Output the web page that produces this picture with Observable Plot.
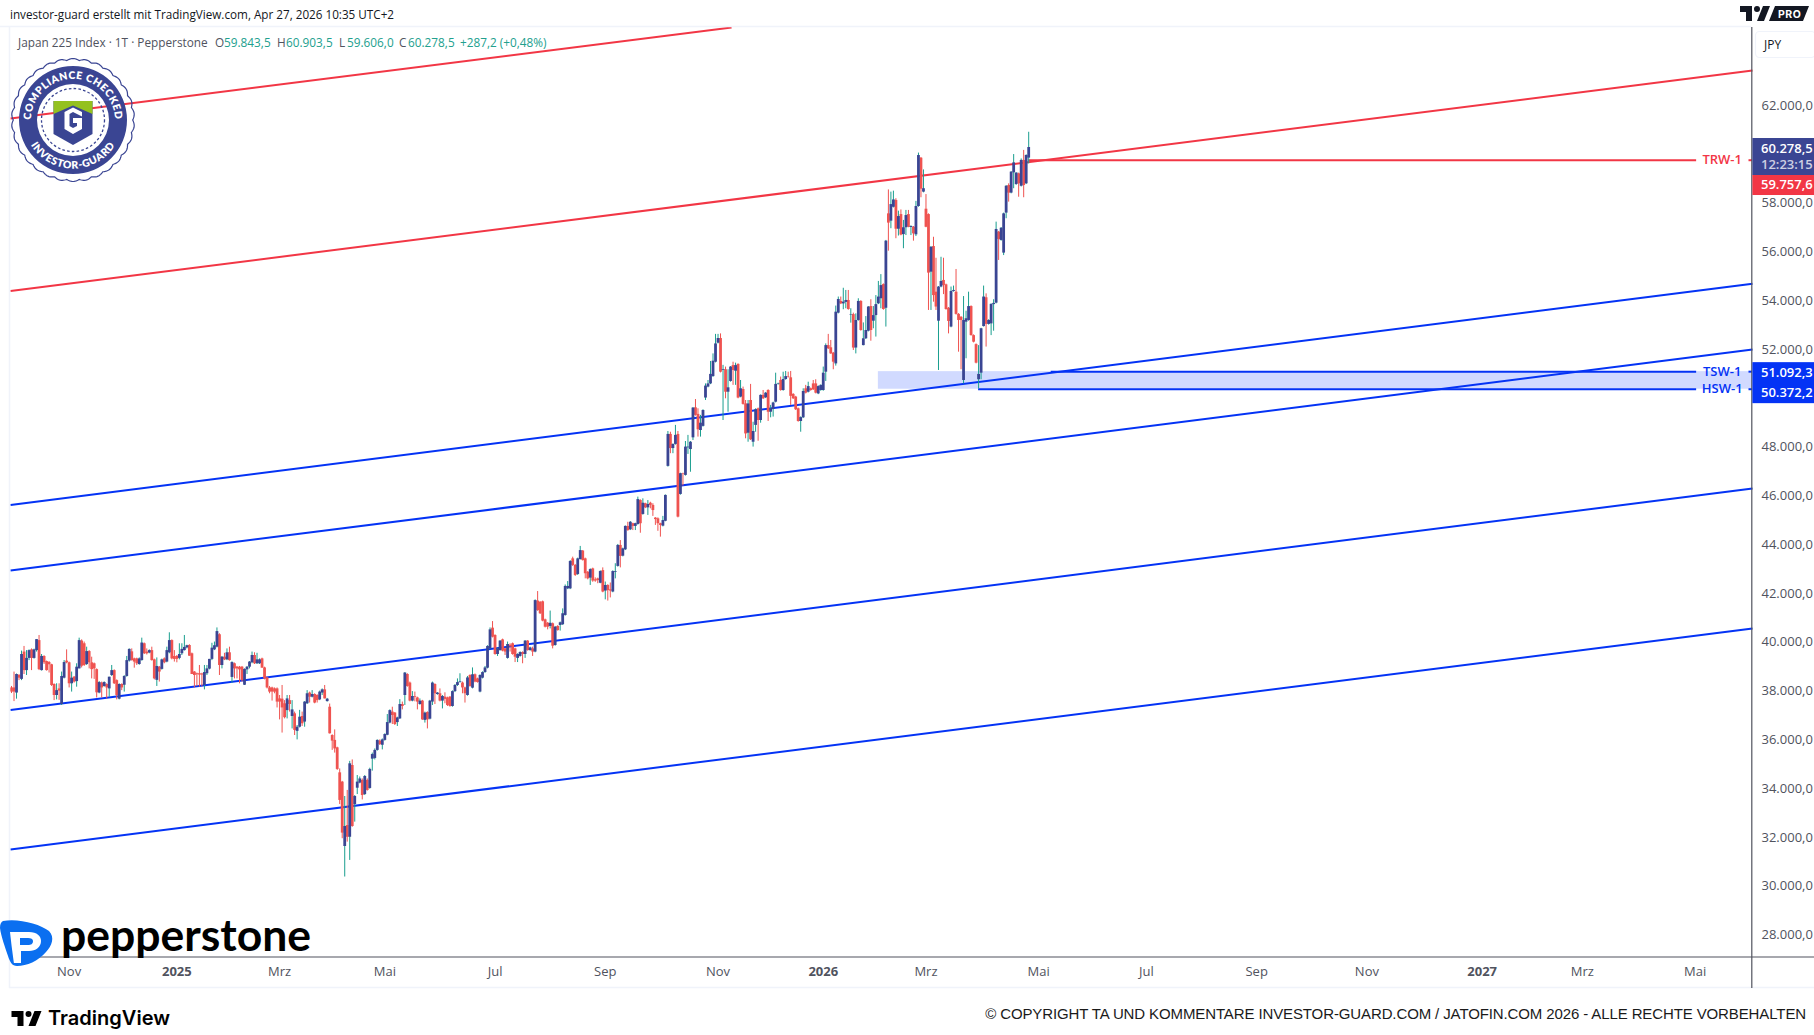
<!DOCTYPE html>
<html lang="de">
<head>
<meta charset="utf-8">
<title>Japan 225 Index</title>
<script src="https://cdn.jsdelivr.net/npm/d3@7"></script>
<script src="https://cdn.jsdelivr.net/npm/@observablehq/plot@0.6"></script>
<style>
html,body{margin:0;padding:0;background:#fff;width:1814px;height:1035px;overflow:hidden}
body{position:relative;font-family:"Open Sans",sans-serif}
#head{height:27px;line-height:29px;padding-left:10px;font-size:11.7px;color:#131722;box-sizing:border-box;white-space:nowrap}
#chart{height:961px;position:relative}
#chart svg{display:block;overflow:hidden}
#legend{position:absolute;left:18px;top:35px;font-size:11.8px;line-height:14px;color:#50535e;white-space:nowrap}
#legend span{position:absolute;top:0}
#legend .v{color:#22a08e}
#foot{position:absolute;top:988px;left:0;width:1814px;height:47px}
#copy{position:absolute;right:8px;top:17px;font:15px "Liberation Sans",sans-serif;color:#1a1a1a;white-space:nowrap;letter-spacing:-.115px}
#over{position:absolute;left:0;top:0;pointer-events:none}
</style>
</head>
<body>
<div id="head">investor-guard erstellt mit TradingView.com, Apr 27, 2026 10:35 UTC+2</div>
<div id="chart"></div>
<div id="legend"></div>
<div id="foot"><div id="copy">© COPYRIGHT TA UND KOMMENTARE INVESTOR-GUARD.COM / JATOFIN.COM 2026 - ALLE RECHTE VORBEHALTEN</div></div>
<script>
// Daily candles: [open, high, low, close]
const candlesLate2024 = [
[38130,38190,37900,37960],[38130,38780,37570,37960],[37920,38700,37670,38680],[38640,38680,38430,38530],[38480,39640,38430,39500],
[39600,39830,38680,38840],[38840,39660,38640,39340],[39340,39690,39250,39660],[39690,39730,38840,39340],[39340,39720,39310,39690],
[39660,40115,39600,40110],[40070,40280,38840,38880],[38840,39500,38820,39420],[39420,39450,39090,39160],[39210,39230,38820,38840],
[39170,39210,38740,39080],[39080,39100,38190,38230],[38270,38300,37610,37820],[37820,38300,37640,38020],[38090,38300,37620,38000],
[37450,38780,37410,38600],[38530,39250,38500,39170],[39230,39690,39120,39160],[39160,39190,38130,38300],[38300,38780,37960,38530],
[38570,38600,38330,38370],[38390,39120,38160,38980],[38910,40170,38910,40070],[40050,40100,38950,39020],[39940,40010,39010,39050],
[39090,39800,39050,39620],[39620,39660,38910,39160],[39160,39390,38500,38880],[39120,39150,38480,38910],[38880,38910,37720,37930],
[37920,38390,37890,38350],[38330,38370,37720,38130],[38190,38380,38160,38350],[38270,38300,37680,38130],[38090,38570,37750,38570],
[38640,39050,38600,38840],[38840,38870,38270,38300],[38430,38460,37640,37820],[37670,38300,37640,38270],[38270,38300,38020,38130],
[38240,38630,37960,38600],[38600,39420,38570,39250],[39230,39730,39190,39710],[39610,39730,39230,39250],[39320,39350,38940,39190],
[39320,39350,39050,39120],[39090,39360,39060,39320],[39250,40170,39230,39970],[39940,39970,39500,39530],[39600,39730,39480,39530],
[39560,39690,39530,39660],[39660,39800,39230,39250],[39280,39310,38460,38500],[38440,39360,38190,39010],[38980,39010,38370,38780],
[38890,39310,38860,39280],[39320,39360,39120,39160],[39190,39800,39160,39660],[39570,40390,39530,40070],[40070,40100,39280,39320],
[39420,39660,39190,39300],[39420,39460,39160,39300],[39340,39940,39280,39500],[39530,39940,39460,39710],[39660,40280,39640,39790],
[39770,39880,39730,39860],[39870,39900,39430,39430],[39530,39560,38680,38680],[38780,38800,38130,38640],[38710,38740,38190,38670],
[38710,39050,38160,38660],[38700,38730,38180,38660],[38230,39050,38050,38760],[38710,39050,38640,38910],[38900,39300,38870,39300]
];
const candlesEarly2025 = [
[39300,39960,39250,39760],[39690,40010,39660,39860],[39800,40590,39770,40440],[40310,40350,38640,39050],[39050,39420,38910,39390],
[39390,39550,39250,39280],[39280,39730,39250,39570],[39570,39800,39230,39250],[38560,39200,38320,39170],[39120,39150,38500,38910],
[38980,39010,38500,38910],[38980,39010,38300,38870],[38980,39010,38370,38430],[38240,38910,38230,38890],[38870,39010,38680,38980],
[38980,39210,38910,39190],[39160,39600,39120,39460],[39460,39570,39090,39120],[39120,39550,39090,39280],[39120,39320,39090,39280],
[39320,39350,38940,38940],[38950,38980,38460,38500],[38540,38570,38090,38130],[38130,38190,37890,37960],[38130,38160,37590,37960],
[38090,38130,37890,37960],[38090,38130,37310,37550],[37680,37820,36820,37550],[37670,38230,36280,37310],[37480,37610,36860,36910],
[37200,37820,36860,37680],[37610,37820,37140,37450],[36960,37610,36450,37230],[37070,37140,36180,36390],[36350,36590,36000,36520],
[36520,37210,36490,36930],[36960,37140,36550,36660],[36730,37570,36520,37550],[37480,38020,37450,37890],[37920,37960,37510,37750],
[37750,38020,37720,37860],[37860,37890,37480,37510],[37820,37850,37510,37610],[37640,38000,37610,37960],[37920,38090,37820,38050],
[38050,38230,37680,37680],[37570,37700,37550,37670],[37340,37470,36240,36250],[36180,36210,35570,35950],[35980,36410,35460,35630],
[35675,35700,34750,34790],[34650,34810,33350,33520],[34270,34300,31950,32180],[31630,33680,30380,32450],[32490,33930,31810,32010],
[32010,35120,31060,35020],[34950,35180,32420,32450],[33350,33720,32630,33680],[34020,34540,33760,34270],[34230,34480,34200,34400],
[34340,34400,33540,33720],[33760,34540,33720,34500],[34340,34400,33900,33930],[34010,34840,33980,34790],[35210,35460,34720,35400],
[35240,35630,35180,35570],[35570,36000,35540,35980],[35950,36000,35770,35810],[35780,36040,35590,36000],[35980,36250,35950,36220],
[36190,37040,36170,36710],[36690,37230,36660,37200],[37140,37340,36630,37000],[37100,37120,36590,36630],[36710,36930,36550,36900],
[36860,37650,36840,37450]
];
const candlesMid2025 = [
[37450,37550,37230,37370],[37820,38760,37410,38740],[38680,38710,38160,38190],[38330,38370,37560,37590],[37590,37980,37560,37780],
[37770,37960,37560,37740],[37720,37750,37230,37550],[37450,37680,37420,37590],[37590,37620,36800,36820],[36800,37140,36690,37100],
[37120,37150,36450,36820],[36850,37620,36820,37590],[37550,38370,37410,38330],[38270,38300,37450,37890],[37860,37940,37830,37920],
[37890,38090,37560,37590],[37590,37820,37270,37780],[37750,37930,37480,37660],[37720,37750,37370,37410],[37750,37780,37340,37370],
[37370,38010,37340,37980],[37980,38270,37940,38230],[38230,38500,38190,38350],[38350,38710,38330,38380],[38330,38370,37890,38130],
[38130,38160,37510,37890],[37820,38600,37790,38540],[38640,38670,38160,38190],[38120,38950,38090,38670],[38670,38700,38340,38370],
[38500,38530,38330,38350],[37960,38670,37930,38640],[38530,38790,38500,38760],[38760,39010,38730,38950],[38940,39860,38910,39830],
[39730,40590,39700,40510],[40580,40850,40180,40210],[40280,40310,39470,39500],[39500,39760,39420,39730],[39660,40070,39640,40050],
[40100,40130,39610,39640],[39730,39760,39460,39600],[39340,40010,39310,39910],[39880,39940,39600,39830],[39940,39970,39470,39500],
[39730,39760,39170,39390],[39340,39530,39170,39500],[39420,39610,39390,39580],[39580,39610,39120,39500],[39500,40070,39340,40050],
[40050,40070,39640,39660],[39660,39800,39640,39770],[39730,39800,39420,39600],[39600,41740,39570,41710],[41690,42080,41270,41300],
[41640,41670,41140,41170],[41660,41690,40840,40870],[40920,40950,40590,40620],[40780,40810,40510,40620],[40650,41280,40550,40780],
[40760,40790,39730,39840],[39870,40650,39840,40620],[40650,40680,40460,40480],[40690,40830,40460,40800],[40720,41370,40690,41170],
[41100,42350,41070,42290]
];
const candlesAutumn2025 = [
[42190,42490,42160,42290],[42190,43350,42160,43310],[43420,43490,43110,43150],[43150,43190,42700,42740],[42780,43450,42740,43420],
[43390,43930,43370,43760],[43740,43760,43330,43350],[43420,43450,42600,42810],[42870,42900,42560,42600],[42630,43010,42330,42980],
[43010,43040,42460,42510],[42560,42640,42460,42510],[42600,42630,42400,42530],[42420,42930,42400,42900],[42940,43050,42030,42060],
[42100,42470,41740,42330],[42330,42360,41690,42120],[42150,42430,41820,42100],[42060,42930,42030,42900],[42870,43220,42600,42900],
[43110,44010,43080,43970],[43970,44170,43050,43520],[43530,43860,43500,43830],[43790,44770,43760,44750],[44750,44920,44550,44580],
[44610,44950,44580,44920],[44860,44880,44580,44750],[44750,44880,44580,44860],[44830,45950,44800,45850],[45810,45840,44470,44860],
[45240,45880,45210,45700],[45680,45700,45480,45510],[45510,45810,45200,45650],[45700,45740,45470,45610],[45610,45680,45160,45400],
[45090,45110,44790,45030],[45060,45100,44550,44860],[44860,44880,44310,44790],[44760,45160,44730,44990],[44960,46040,44940,46020],
[47210,48640,47180,48520],[48520,48610,47730,47940],[47940,48130,47730,48110],[48110,48890,48080,48480],[48520,48640,45100,45130],
[46060,46930,46030,46910],[46900,46930,46400,46880],[46840,48230,46810,48000],[47970,48480,47700,48000],[47900,48230,46970,48200],
[48380,49620,48270,49600],[49610,49950,49270,49300],[49340,49570,48410,48710],[48680,49300,48410,48980],[48850,49530,48820,49500],
[50010,50590,49910,50500],[50460,50730,50430,50590],[50590,51510,50560,50980],[50890,51820,50860,51520],[51480,52620,51450,52230],
[52260,52620,52230,52450],[52450,52640,51040,51070],[51140,51350,49090,51170],[51170,51280,49980,50250],[50250,51170,49430,50430],
[50690,51300,50660,51280],[51340,51480,50530,51140],[51110,51440,50530,51340],[51390,51410,49980,50010],[50050,50730,50020,50390],
[50360,50460,49720,49750],[49770,49910,48340,48540],[48570,49910,48200,49770],[49910,50570,48270,48300],[48200,49020,48000,48640],
[48890,49570,48610,49530],[49570,49600,48240,49090],[49090,50140,48980,50120],[50120,50320,49950,49980],[50020,50240,49990,50210],
[50320,50350,49050,49430],[49430,49710,49200,49570],[49540,49840,49230,49810],[49840,51030,49810,50570],[50570,50620,50540,50590],
[50730,50870,50290,50320],[50320,51070,50290,50770],[50770,51100,50740,50890],[50880,51070,50830,50860],[50840,51100,49710,50080],
[50160,50190,49950,49980],[50050,50080,49500,49530],[49570,49600,49020,49050],[49050,49240,48610,49210],[49200,50390,49170,50280],
[50390,50530,50180,50210],[50250,50660,50220,50480],[50390,50420,50290,50320],[50590,50730,50320,50350],[50590,50760,50180,50210],
[50180,50510,50150,50480],[50320,50550,50290,50530],[50320,51280,50290,51030],[51070,52230,50690,52160]
];
const candles2026 = [
[52160,52620,52000,52030],[52070,52370,51800,51820],[51850,51880,51170,51480],[51410,53780,51320,53530],[53490,54150,53460,54050],
[53970,54150,53840,53870],[53870,54510,53630,53940],[53930,54420,53670,54010],[54010,54420,53610,53640],[53410,53670,53080,53430],
[53430,53490,51960,52060],[52060,53460,51820,53190],[53190,54080,53160,53970],[53970,54000,52750,52780],[52160,53090,52150,52440],
[52440,53350,52410,52780],[52750,53760,52720,53740],[53760,54040,52340,52780],[53160,53760,52850,53390],[53390,54210,52510,53840],
[53870,54790,53840,54150],[54080,55070,53670,54620],[54660,54690,53610,53640],[53690,56470,52920,56440],[57560,58540,56030,57180],
[57260,58450,56950,57940],[57830,58490,57800,58130],[58110,58180,56540,56930],[56930,57670,56650,57450],[57530,57720,56660,56690],
[56710,57290,56130,56990],[56990,57700,56670,57490],[57530,57700,56990,57010],[57000,57070,56670,57040],[57010,57040,56440,56740],
[56700,58070,56630,57860],[57860,60050,57830,59950],[59840,59870,58220,58570],[58450,59360,58420,58590],[57750,58350,56990,57010],
[57530,57560,53600,55130],[55170,56220,53600,56190],[56220,56600,53940,54210],[54350,55740,53600,53740],[53160,54580,51140,54560],
[54560,55780,54530,54790],[54830,55740,54250,54620],[54650,54680,53610,53640],[53690,53720,52640,53150],[52920,54560,52890,54380],
[54380,54600,54350,54420],[54350,55280,53410,53440],[53440,53470,51890,53190],[53320,53350,51170,53190],[50730,54170,50590,53190],
[53120,53570,51620,53260],[53190,54350,53160,53760],[53760,53790,52550,52570],[52570,52600,52270,52300],[52200,52230,51410,51440],
[50760,52160,50390,50980],[51030,52870,50760,52850],[52940,54600,52920,54150],[54120,54280,52100,53030],[53030,53220,53000,53190],
[53050,53870,52570,53850],[53840,54040,52750,53890],[53900,57220,53870,56920],[56810,56840,55650,56510],[56470,57000,56440,56970],
[55950,57590,55850,57560],[57590,58720,57360,58690],[58720,58790,58040,58410],[58410,59290,58380,59270],[59240,59990,58590,59650],
[58760,59250,58730,59230],[59200,59230,58240,58790],[58690,59810,58660,59750],[59750,60160,58220,58720],[58790,59980,58760,59950],
[59843.5,60903.5,59606,60278.5]
];

// Trend channels: [start bar, start price, end bar, end price]
const redChannels = [[-0.4,61467,287.4,65197],[-0.4,54398,694.9,63434]];
const blueChannels = [[-0.4,45627,694.9,54693],[-0.4,42943,694.9,52000],[-0.4,37225,694.9,46303],[-0.4,31508,694.9,40566]];

// Levels
const trw = 59757.6, tsw = 51092.3, hsw = 50372.2;
const lastPrice = 60278.5;
const lineEndBar = 672.6, stubStartBar = 693.5, labelBar = 682.8, plotEndBar = 694.9;
const trwStart = 406, tswStart = 415, hswStart = 386, zoneStart = 346;

// Axis ticks (price labels hidden behind the tags and the JPY button are left out)
const monthBars = [23,107,149,193,237,282,365,410,453,497,541,627,672];
const monthNames = ["Nov","Mrz","Mai","Jul","Sep","Nov","Mrz","Mai","Jul","Sep","Nov","Mrz","Mai"];
const yearBars = [66,324,587];
const yearNames = ["2025","2026","2027"];
const priceTicks = [28000,30000,32000,34000,36000,38000,40000,42000,44000,46000,48000,52000,54000,56000,58000,62000];

const candles = [...candlesLate2024,...candlesEarly2025,...candlesMid2025,...candlesAutumn2025,...candles2026]
  .map((r,i)=>({bar:i,open:r[0],high:r[1],low:r[2],close:r[3]}));
const up = candles.filter(d=>d.close>=d.open), down = candles.filter(d=>d.close<d.open);
const segs = a => a.map(s=>({x1:s[0],y1:s[1],x2:s[2],y2:s[3]}));
const fmtPrice = v => d3.format(",.1f")(v).replace(/,/g,"#").replace(".",",").replace(/#/g,".");

const RED="#f23645", BLUE="#0433f5", UPBODY="#3a4593", UPWICK="#1a9e8f", DOWN="#ef5350", AXIS="#50535e";
const segMark = (data,stroke) => Plot.link(data,{x1:"x1",y1:"y1",x2:"x2",y2:"y2",stroke,strokeWidth:2,markerEnd:"none"});
const levelMark = (x1,x2,y,stroke) => Plot.ruleY([y],{x1,x2,stroke,strokeWidth:2});

const plot = Plot.plot({
  width:1814,height:961,marginTop:0,marginBottom:31,marginLeft:10,marginRight:62,
  x:{type:"linear",domain:[-0.4,plotEndBar]},
  y:{domain:[27082,65197]},
  style:{fontFamily:'"Open Sans",sans-serif',background:"#fff",color:AXIS,overflow:"hidden"},
  marks:[
    Plot.rect([{a:zoneStart,b:plotEndBar,lo:hsw,hi:tsw}],{x1:"a",x2:"b",y1:"lo",y2:"hi",fill:"#d1daff"}),
    segMark(segs(redChannels),RED),
    segMark(segs(blueChannels),BLUE),
    levelMark(trwStart,lineEndBar,trw,RED),levelMark(stubStartBar,plotEndBar,trw,RED),
    levelMark(tswStart,lineEndBar,tsw,BLUE),levelMark(stubStartBar,plotEndBar,tsw,BLUE),
    levelMark(hswStart,lineEndBar,hsw,BLUE),levelMark(stubStartBar,plotEndBar,hsw,BLUE),
    Plot.ruleX(up,{x:"bar",y1:"low",y2:"high",stroke:UPWICK,strokeWidth:1}),
    Plot.ruleX(down,{x:"bar",y1:"low",y2:"high",stroke:DOWN,strokeWidth:1}),
    Plot.ruleX(down,{x:"bar",y1:"open",y2:"close",stroke:DOWN,strokeWidth:2.8}),
    Plot.ruleX(up,{x:"bar",y1:"open",y2:"close",stroke:UPBODY,strokeWidth:2.8}),
    Plot.text([{t:"TRW-1",v:trw,c:RED},{t:"TSW-1",v:tsw,c:BLUE},{t:"HSW-1",v:hsw,c:BLUE}],
      {x:()=>labelBar,y:"v",text:"t",fill:"c",fontSize:13,fontWeight:600}),
    Plot.axisY({anchor:"right",ticks:priceTicks,tickSize:0,tickPadding:9,fontSize:13,textAnchor:"start",
      tickFormat:fmtPrice,label:null,fill:AXIS}),
    Plot.axisX({ticks:monthBars,tickSize:0,tickPadding:9,fontSize:13,label:null,fill:AXIS,
      tickFormat:d=>monthNames[monthBars.indexOf(d)]}),
    Plot.axisX({ticks:yearBars,tickSize:0,tickPadding:9,fontSize:13,fontWeight:"bold",label:null,fill:AXIS,
      tickFormat:d=>yearNames[yearBars.indexOf(d)]})
  ]
});
document.getElementById("chart").append(plot);

// Legend line
const legendItems = [
 [0,"Japan 225 Index · 1T · Pepperstone",""],
 [197,"O",""],[206,"59.843,5","v"],
 [259,"H",""],[268,"60.903,5","v"],
 [321,"L",""],[329,"59.606,0","v"],
 [381,"C",""],[390,"60.278,5","v"],
 [442,"+287,2 (+0,48%)","v"]];
const lg=d3.select("#legend");
legendItems.forEach(([x,t,c])=>lg.append("span").attr("class",c).style("left",x+"px").text(t));

// Page chrome: axis lines, price tags, logos
const py = v => 27 + plot.scale("y").apply(v);
const over = d3.select("body").append("svg").attr("id","over").attr("width",1814).attr("height",1035);
const NAVY="#3a4593";
const ln=(x1,y1,x2,y2,c,w=1)=>over.append("line").attr("x1",x1).attr("y1",y1).attr("x2",x2).attr("y2",y2).attr("stroke",c).attr("stroke-width",w);
ln(0,26.5,1751,26.5,"#f0f3fa",1.5); ln(9.5,27,9.5,988,"#f0f3fa",1.5); ln(9,987.5,1814,987.5,"#f0f3fa",1.5);
ln(10,957,1814,957,AXIS,1.2); ln(1751.8,27,1751.8,988,AXIS,1.2);

// JPY button
over.append("rect").attr("x",1755.5).attr("y",31.5).attr("width",60).attr("height",26).attr("rx",4).attr("fill","#fff").attr("stroke","#f0f3fa").attr("stroke-width",1.2);
over.append("text").attr("x",1764).attr("y",49).attr("font-family",'"Open Sans",sans-serif').attr("font-size",12).attr("fill","#131722").text("JPY");

// Price tags
const tag=(y,h,fill)=>over.append("rect").attr("x",1752.4).attr("y",y).attr("width",62).attr("height",h).attr("fill",fill);
const tagText=(y,t,op=1)=>over.append("text").attr("x",1761).attr("y",y).attr("font-family",'"Open Sans",sans-serif').attr("font-weight",600).attr("font-size",13).attr("fill","#fff").attr("fill-opacity",op).text(t);
const top1=py(lastPrice)-9;
tag(top1,37,NAVY); tagText(top1+15,fmtPrice(lastPrice)); tagText(top1+31,"12:23:15",.75);
tag(top1+37,20,RED); tagText(top1+51,fmtPrice(trw));
const top2=py(tsw)-9;
tag(top2,41,"#0433f5"); tagText(top2+15,fmtPrice(tsw)); tagText(top2+35,fmtPrice(hsw));

// Compliance seal
const seal=over.append("g").attr("transform","translate(73,120)");
const nScal=30, rOut=61.5, amp=1.8;
let sp="";
d3.range(0,361).forEach(k=>{const a=k/360*2*Math.PI,r=rOut-amp+amp*Math.abs(Math.sin(a*nScal/2))*1;sp+=(k?"L":"M")+(r*Math.cos(a)).toFixed(2)+" "+(r*Math.sin(a)).toFixed(2);});
seal.append("path").attr("d",sp+"Z").attr("fill","none").attr("stroke",NAVY).attr("stroke-width",1.2);
seal.append("path").attr("fill-rule","evenodd").attr("fill",NAVY)
  .attr("d","M-54 0a54 54 0 1 0 108 0a54 54 0 1 0 -108 0ZM-36 0a36 36 0 1 0 72 0a36 36 0 1 0 -72 0Z");
seal.append("circle").attr("r",31.5).attr("fill","none").attr("stroke",NAVY).attr("stroke-width",1.3).attr("stroke-dasharray","2.6 2.2");
seal.append("path").attr("d","M-19.5 -19V14L0 25L19.5 14V-19Z").attr("fill",NAVY);
seal.append("path").attr("d","M-19.5 -19H19.5V-6L0 -14.5L-19.5 -6Z").attr("fill","#94c11f");
seal.append("path").attr("d","M-8.5 -8L0 -12.5L9 -8V-3.5L0 -8L-3.5 -6V6L0 8L4 6V3H0V-2H9V9L0 14L-8.5 9Z").attr("fill","#fff");
const defs=over.append("defs");
defs.append("path").attr("id","arcTop").attr("d","M-41 10A42 42 0 1 1 41 10");
defs.append("path").attr("id","arcBot").attr("d","M-48.5 9A49.5 49.5 0 0 0 48.5 9");
const arc=(id,t)=>seal.append("text").attr("font-family","Lato,sans-serif").attr("font-weight",800).attr("font-size",10.4).attr("letter-spacing",.55).attr("fill","#fff").attr("text-anchor","middle")
  .append("textPath").attr("href","#"+id).attr("startOffset","50%").text(t);
arc("arcTop","COMPLIANCE CHECKED"); arc("arcBot","INVESTOR-GUARD");

// Pepperstone logo
over.append("path").attr("fill","#0b6ff0")
  .attr("d","M3 921C18 918 40 924 49 931C55 937 52 946 46 952C38 961 27 966 17 966C12 966 10 962 8 956C5 947 1 936 0 928C0 924 1 922 3 921Z");
over.append("path").attr("fill","#fff").attr("fill-rule","evenodd")
  .attr("d","M10 932H29C37 932 41 936 41 941C41 947 36 951 29 951H21V963H14C14 963 12 950 10 932ZM20 938V945H28C31 945 33 944 33 941C33 939 31 938 28 938Z");
over.append("text").attr("x",61).attr("y",951).attr("font-family","Lato,sans-serif").attr("font-weight",700).attr("font-size",44)
  .attr("textLength",250).attr("lengthAdjust","spacingAndGlyphs").attr("fill","#000").text("pepperstone");

// TradingView marks
const TV="M14 6H2v6h6v9h6V6Zm12 15h-7l6-15h7l-6 15Zm-7-9a3 3 0 1 0 0-6 3 3 0 0 0 0 6Z";
over.append("path").attr("d",TV).attr("fill","#000").attr("transform","translate(9.5,1005)");
over.append("text").attr("x",48).attr("y",1025).attr("font-family","Inter,sans-serif").attr("font-weight",600).attr("font-size",20)
  .attr("textLength",122).attr("lengthAdjust","spacingAndGlyphs").attr("fill","#000").text("TradingView");
over.append("path").attr("d",TV).attr("fill","#131722").attr("transform","translate(1738,0)");
over.append("path").attr("d","M1775 6H1809L1803 21H1769Z").attr("fill","#131722");
over.append("text").attr("x",1778).attr("y",18).attr("font-family","Inter,sans-serif").attr("font-weight",700).attr("font-size",10.5).attr("letter-spacing",.5).attr("fill","#fff").text("PRO");
</script>
</body>
</html>
